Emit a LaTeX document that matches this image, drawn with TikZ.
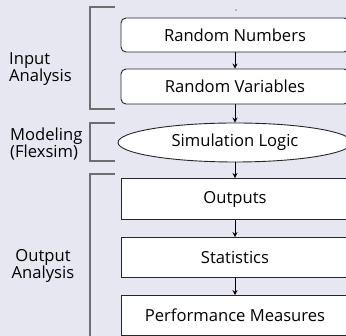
\documentclass[tikz,border=0pt]{standalone}
\usepackage{fontspec}
\setmainfont{Open Sans}
\usetikzlibrary{shapes.geometric,arrows.meta}
\definecolor{pagebg}{HTML}{E7E7F1}
\definecolor{edge}{HTML}{262626}
\definecolor{brace}{HTML}{6E6E6E}
\tikzset{
  every node/.style={font=\fontsize{16.6}{16}\selectfont, text=black},
  stage/.style={draw=edge, fill=white, line width=0.9pt, minimum width=228pt, inner sep=0pt},
  roundstage/.style={stage, rounded corners=5pt},
  logicstage/.style={stage, ellipse, minimum width=234pt, minimum height=39pt},
  flow/.style={line width=1pt, -{Stealth[length=5pt,width=5pt]}},
  bracketline/.style={draw=brace, line width=1.2pt},
  phase/.style={inner sep=0pt, align=left}
}
\begin{document}
\begin{tikzpicture}[x=1pt,y=-1pt]
  \useasboundingbox (0,0) rectangle (346,336);
  \clip (0,0) rectangle (346,336);
  \fill[pagebg] (0,0) rectangle (346,336);

  % pipeline stages
  \node[roundstage, minimum height=34pt] (rn) at (235,35) {Random Numbers};
  \node[roundstage, minimum height=35pt] (rv) at (235,86.5) {Random Variables};
  \node[logicstage] (sl) at (235,142.5) {Simulation Logic};
  \node[stage, minimum height=41pt] (out) at (235,199) {Outputs};
  \node[stage, minimum height=40pt] (st) at (235,257.5) {Statistics};
  \node[stage, minimum height=40pt] (pm) at (235,315.5) {Performance Measures};

  \draw[flow] (rn) -- (rv);
  \draw[flow] (rv) -- (sl);
  \draw[flow] (sl) -- (out);
  \draw[flow] (out) -- (st);
  \draw[flow] (st) -- (pm);

  % small mark above the first stage
  \fill[black!45] (236,10) circle (0.8pt);

  % phase brackets
  \coordinate (ia1) at (115,7);   \coordinate (ia2) at (115,109);
  \coordinate (mo1) at (115,123); \coordinate (mo2) at (115,161);
  \coordinate (oa1) at (115,174); \coordinate (oa2) at (90,340);
  \draw[bracketline] (ia1) -- (90,7) -- (90,109) -- (ia2);
  \draw[bracketline] (mo1) -- (90,123) -- (90,161) -- (mo2);
  \draw[bracketline] (oa1) -- (90,174) -- (oa2);

  % phase labels (anchored on the baseline of their last line)
  \node[phase, anchor=base west] (lin) at (9,81.7) {Input\\Analysis};
  \node[phase, anchor=base west] (lmo) at (10,157.7) {Modeling\\(Flexsim)};
  \node[phase, align=center, anchor=base] (lout) at (43,279) {Output\\Analysis};
\end{tikzpicture}
\end{document}
